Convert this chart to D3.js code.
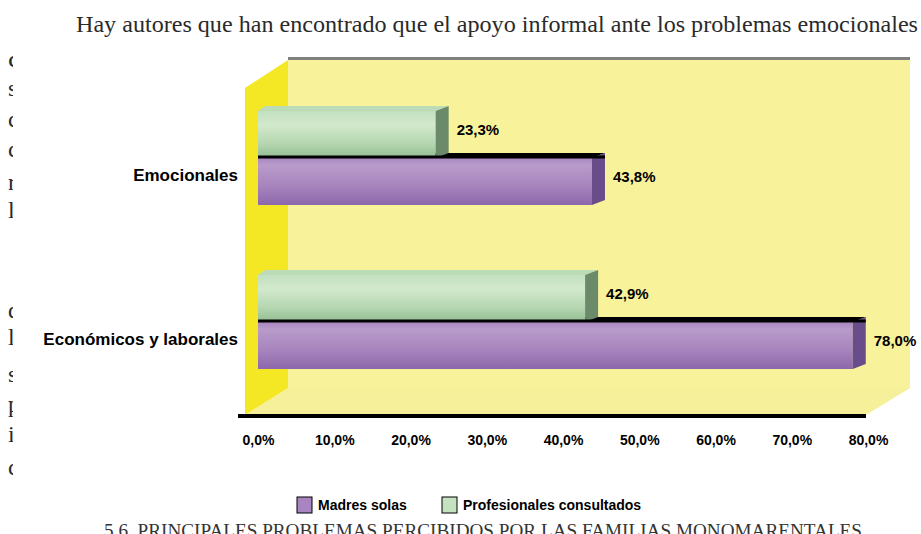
<!DOCTYPE html>
<html>
<head>
<meta charset="utf-8">
<script src="https://cdn.jsdelivr.net/npm/d3@7"></script>
<style>
  body { margin: 0; background: #fff; }
  svg { display: block; }
</style>
</head>
<body>
<div id="wrapper"></div>
<script>
// chart data
const categories = ["Emocionales", "Económicos y laborales"];
const seriesNames = ["Madres solas", "Profesionales consultados"];
const madres = [43.8, 78.0];
const profesionales = [23.3, 42.9];
const tickValues = [0, 10, 20, 30, 40, 50, 60, 70, 80];

// page text, mostly hidden behind the chart picture
const headline = "Hay autores que han encontrado que el apoyo informal ante los problemas emocionales";
const secondLine = "conlleva un efecto protector sobre la salud de las madres que viven solas con sus";
const marginWords = ["sus", "con", "con", "rara", "la", "de", "la", "su", "por", "in", "con"];
const marginY = [96, 127, 157, 190, 218, 318, 345, 382, 412, 442, 475];
const caption = "5.6. PRINCIPALES PROBLEMAS PERCIBIDOS POR LAS FAMILIAS MONOMARENTALES";

const width = 921, height = 534;
const svg = d3.select("#wrapper").append("svg")
  .attr("width", width)
  .attr("height", height);

const serif = "'Liberation Serif', 'Times New Roman', Times, serif";
const sans = "'Liberation Sans', Arial, sans-serif";

// page text
svg.append("text")
  .attr("x", 76).attr("y", 32)
  .attr("font-family", serif).attr("font-size", 24)
  .attr("textLength", 842).attr("lengthAdjust", "spacingAndGlyphs")
  .attr("fill", "#2a2a2a")
  .text(headline);

svg.append("text")
  .attr("x", 8).attr("y", 67)
  .attr("font-family", serif).attr("font-size", 24)
  .attr("textLength", 905).attr("lengthAdjust", "spacingAndGlyphs")
  .attr("fill", "#2a2a2a")
  .text(secondLine);

svg.selectAll("text.body")
  .data(marginWords)
  .join("text")
  .attr("class", "body")
  .attr("x", 8)
  .attr("y", (d, i) => marginY[i])
  .attr("font-family", serif).attr("font-size", 24)
  .attr("fill", "#2a2a2a")
  .text(d => d);

// the chart picture covers the body text
svg.append("rect")
  .attr("x", 13).attr("y", 51)
  .attr("width", 908).attr("height", 466)
  .attr("fill", "#fff");

// scales
const x = d3.scaleLinear().domain([0, 80]).range([258, 868]);
const y = d3.scalePoint().domain(categories).range([157, 321]);
const yInner = d3.scaleBand().domain(["prof", "madres"]).range([-46, 48]).padding(0);

// 3D frame
const frontY = 415, backY = 388;
const back = { x0: 288, x1: 910, y0: 60 };

svg.append("rect")
  .attr("x", back.x0).attr("y", back.y0)
  .attr("width", back.x1 - back.x0).attr("height", backY - back.y0)
  .attr("fill", "#f8f29b");

svg.append("path")
  .attr("d", `M245,${frontY}L866,${frontY}L${back.x1},${backY}L${back.x0},${backY}Z`)
  .attr("fill", "#f7f09a");

svg.append("path")
  .attr("d", `M245,${back.y0 + 28}L${back.x0},${back.y0}L${back.x0},${backY}L245,${frontY}Z`)
  .attr("fill", "#f3e823");

svg.append("line")
  .attr("x1", back.x0).attr("x2", back.x1)
  .attr("y1", back.y0 - 1.5).attr("y2", back.y0 - 1.5)
  .attr("stroke", "#808080").attr("stroke-width", 3);

// gradients for the bar fronts
const defs = svg.append("defs");
function grad(id, stops) {
  const g = defs.append("linearGradient").attr("id", id)
    .attr("x1", 0).attr("y1", 0).attr("x2", 0).attr("y2", 1);
  stops.forEach(s => g.append("stop").attr("offset", s[0]).attr("stop-color", s[1]));
}
grad("gMadres", [[0, "#a886bf"], [0.15, "#b99bcb"], [0.6, "#a784bd"], [1, "#8c68ac"]]);
grad("gProf", [[0, "#c2e0c0"], [0.3, "#d3e9cc"], [0.7, "#b4d6b0"], [1, "#93bd92"]]);

const sideW = 13, topH = 5;

function drawBars(values, key, fill, side, topC) {
  const g = svg.append("g");
  categories.forEach((c, i) => {
    const y0 = y(c) + yInner(key), h = yInner.bandwidth();
    const x0 = x(0), x1 = x(values[i]);
    // top face
    g.append("path")
      .attr("d", `M${x0},${y0}L${x1},${y0}L${x1 + sideW},${y0 - topH}L${x0 + 7},${y0 - topH}Z`)
      .attr("fill", topC);
    // front face
    g.append("rect")
      .attr("x", x0).attr("y", y0)
      .attr("width", x1 - x0).attr("height", h)
      .attr("fill", fill);
    // side face
    g.append("path")
      .attr("d", `M${x1},${y0}L${x1 + sideW},${y0 - topH}L${x1 + sideW},${y0 + h - topH}L${x1},${y0 + h}Z`)
      .attr("fill", side);
  });
}

drawBars(madres, "madres", "url(#gMadres)", "#694c8a", "#000");
drawBars(profesionales, "prof", "url(#gProf)", "#6a8a6a", "#bcdcb8");

// black edge along the top of the purple bars
svg.selectAll("line.edge")
  .data(categories)
  .join("line")
  .attr("class", "edge")
  .attr("x1", x(0))
  .attr("x2", (d, i) => x(madres[i]) + sideW)
  .attr("y1", d => y(d) + yInner("madres") - 1)
  .attr("y2", d => y(d) + yInner("madres") - 1)
  .attr("stroke", "#000").attr("stroke-width", 3);

// value labels
const fmt = v => d3.format(".1f")(v).replace(".", ",") + "%";
function valueLabels(values, key) {
  svg.selectAll("text.v-" + key)
    .data(categories)
    .join("text")
    .attr("class", "v-" + key)
    .attr("x", (d, i) => x(values[i]) + sideW + 8)
    .attr("y", d => y(d) + yInner(key) + yInner.bandwidth() / 2)
    .attr("font-family", sans).attr("font-size", 15).attr("font-weight", "bold")
    .text((d, i) => fmt(values[i]));
}
valueLabels(madres, "madres");
valueLabels(profesionales, "prof");

// floor front edge
svg.append("line")
  .attr("x1", 238).attr("x2", 866)
  .attr("y1", frontY + 1).attr("y2", frontY + 1)
  .attr("stroke", "#000").attr("stroke-width", 4);

// x axis labels
const xAxis = svg.append("g")
  .attr("transform", `translate(0,${frontY + 17})`)
  .call(d3.axisBottom(x).tickValues(tickValues).tickSize(0)
    .tickFormat(d => d3.format(".1f")(d).replace(".", ",") + "%"));
xAxis.select(".domain").remove();
xAxis.selectAll("text")
  .attr("font-family", sans).attr("font-size", 14).attr("font-weight", "bold")
  .attr("fill", "#000");

// category labels
svg.selectAll("text.cat")
  .data(categories)
  .join("text")
  .attr("class", "cat")
  .attr("x", 238)
  .attr("y", d => y(d) + 24)
  .attr("text-anchor", "end")
  .attr("font-family", sans).attr("font-size", 17).attr("font-weight", "bold")
  .text(d => d);

// legend
const legendX = [297, 442];
const legendColors = ["#a885c0", "#c4e2c0"];
const legend = svg.selectAll("g.legend")
  .data(seriesNames)
  .join("g")
  .attr("class", "legend")
  .attr("transform", (d, i) => `translate(${legendX[i]},497)`);
legend.append("rect")
  .attr("width", 15).attr("height", 16)
  .attr("fill", (d, i) => legendColors[i])
  .attr("stroke", "#000").attr("stroke-width", 1);
legend.append("text")
  .attr("x", 21).attr("y", 13)
  .attr("font-family", sans).attr("font-size", 14).attr("font-weight", "bold")
  .text(d => d);

// figure caption, cut by the page edge as in the scan
svg.append("text")
  .attr("x", 104).attr("y", 537)
  .attr("font-family", serif).attr("font-size", 19)
  .attr("textLength", 758).attr("lengthAdjust", "spacingAndGlyphs")
  .attr("fill", "#333")
  .text(caption);
</script>
</body>
</html>
